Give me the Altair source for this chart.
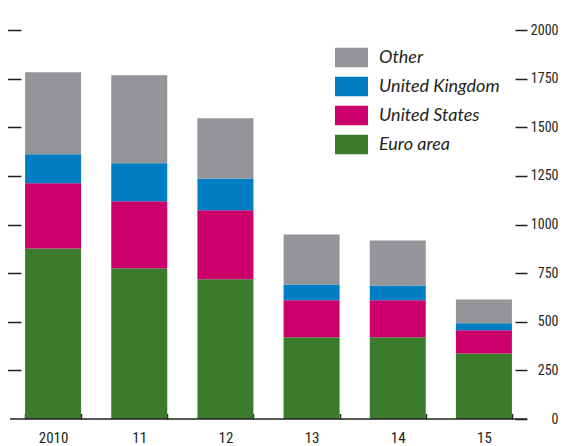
import altair as alt
import pandas as pd

categories = ["2010", "11", "12", "13", "14", "15"]
euro_area = [877, 775, 718, 420, 420, 337]
united_states = [335, 344, 355, 190, 190, 119]
united_kingdom = [149, 196, 164, 82, 77, 36]
other = [422, 452, 309, 257, 231, 123]

series_names = ["Other", "United Kingdom", "United States", "Euro area"]
series_colors = ["#939598", "#007dc3", "#cc006c", "#3a7b2c"]
stack_rank = {"Euro area": 0, "United States": 1, "United Kingdom": 2, "Other": 3}
y_ticks = [0, 250, 500, 750, 1000, 1250, 1500, 1750, 2000]

rows = []
for i, year in enumerate(categories):
    for name, vals in [("Euro area", euro_area), ("United States", united_states),
                       ("United Kingdom", united_kingdom), ("Other", other)]:
        rows.append({"year": year, "series": name, "value": vals[i], "rank": stack_rank[name]})
df = pd.DataFrame(rows)

AXFONT = "Roboto Condensed, Open Sans Condensed, Arial Narrow, Liberation Sans Narrow, Liberation Sans"
INK = "#231f20"
yscale = alt.Scale(domain=[0, 2000], nice=False)

bars = alt.Chart(df).mark_bar().encode(
    x=alt.X("year:N", sort=categories, title=None,
            scale=alt.Scale(paddingInner=0.35, paddingOuter=0.175),
            axis=alt.Axis(domain=False, offset=-5.5, tickSize=5.5, tickBand="extent",
                          labelPadding=11, labelAngle=0, labelFontSize=15)),
    y=alt.Y("value:Q", stack="zero", scale=yscale, title=None,
            axis=alt.Axis(orient="right", values=y_ticks, offset=-12, tickSize=12, format="d",
                          labelAlign="right", labelPadding=31, grid=False, domain=False,
                          labelFontSize=14)),
    color=alt.Color("series:N", scale=alt.Scale(domain=series_names, range=series_colors),
                    legend=alt.Legend(orient="none", legendX=325, legendY=11, title=None,
                                      symbolType="M-1,-0.585L1,-0.585L1,0.585L-1,0.585Z",
                                      symbolSize=1089, symbolStrokeWidth=0, symbolOpacity=1,
                                      rowPadding=2, labelOffset=11, padding=0,
                                      labelFont="Lato", labelFontStyle="italic",
                                      labelFontSize=18, labelColor=INK)),
    order=alt.Order("rank:Q", sort="ascending"),
)

baseline = alt.Chart(pd.DataFrame({"z": [0]})).mark_rule(color=INK, strokeWidth=1.3).encode(
    y=alt.Y(datum=0, scale=yscale, title=None,
            axis=alt.Axis(orient="left", values=y_ticks[1:], labels=False, offset=-11,
                          tickSize=13.5, domain=False, grid=False))
)

chart = alt.layer(bars, baseline).resolve_axis(y="independent").properties(
    width=517, height=389,
    autosize=alt.AutoSizeParams(type="none"),
    padding={"left": 2, "top": 22, "right": 32, "bottom": 27},
).configure_view(stroke=None).configure_axis(
    tickColor=INK, tickWidth=1.5, labelColor=INK, labelFont=AXFONT
)

chart.save("out.html", embed_options={"renderer": "svg", "actions": False})
